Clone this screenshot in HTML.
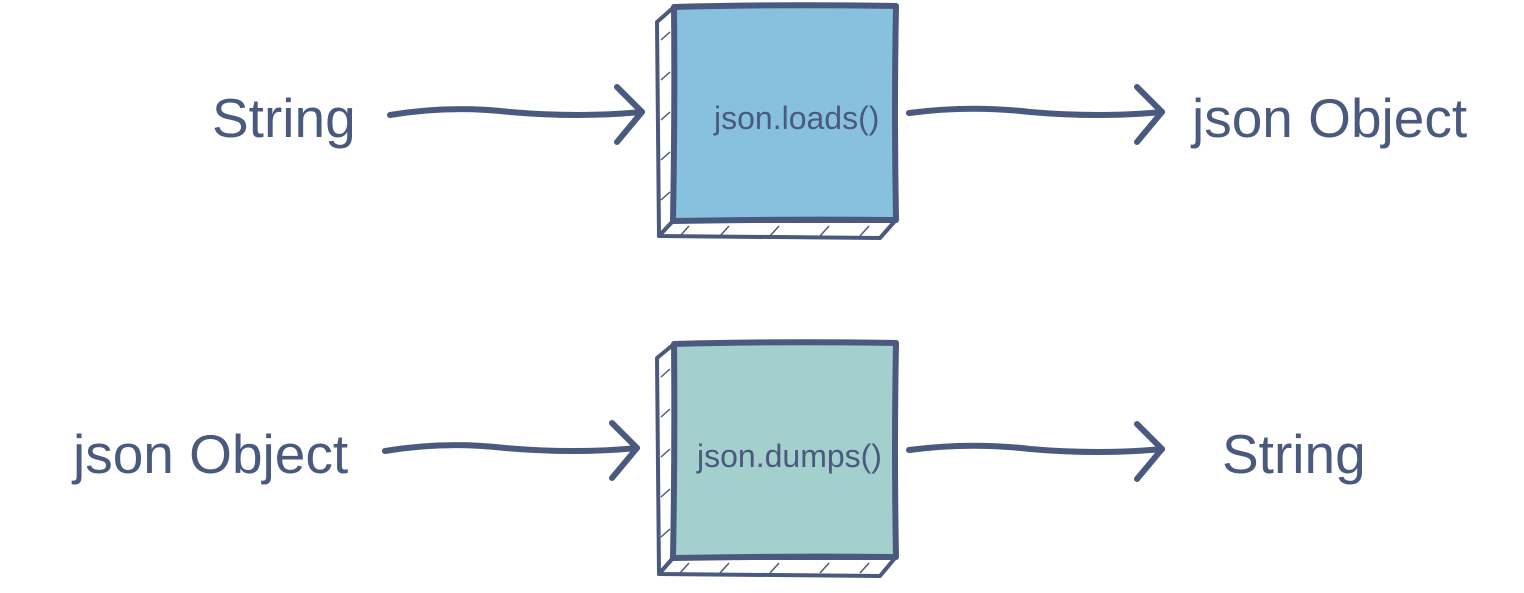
<!DOCTYPE html>
<html><head><style>
body{margin:0;background:#fff;width:1524px;height:588px;overflow:hidden}
svg text{font-family:"Liberation Sans",sans-serif;fill:#4a5a7e}
</style></head><body>
<svg width="1524" height="588" viewBox="0 0 1524 588" xmlns="http://www.w3.org/2000/svg">
<g fill="none" stroke="#4a5a7e" stroke-width="6" stroke-linecap="round" stroke-linejoin="round">
<path d="M674,7 L657,22 L659,236 L673,221 Z" fill="#fff" stroke-width="4"/>
<path d="M659,236 L880,238 L895,221 L673,221 Z" fill="#fff" stroke-width="4"/>
<path d="M674,7 Q780,4 896,6 Q894,110 896,220 Q780,219 673,221 Q675,110 674,7 Z" fill="#88c1df"/>
<path d="M674,344 L657,358 L659,574 L673,558 Z" fill="#fff" stroke-width="4"/>
<path d="M659,574 L880,576 L895,558 L673,558 Z" fill="#fff" stroke-width="4"/>
<path d="M674,344 Q780,341 896,343 Q894,450 896,557 Q780,556 673,558 Q675,450 674,344 Z" fill="#a3cfcd"/>
<path d="M390,115 Q450,105 510,112 Q580,118 642,112"/>
<path d="M617,87 L642,112 L617,142"/>
<path d="M909,113 Q970,105 1030,112 Q1100,118 1162,112"/>
<path d="M1137,87 L1162,112 L1137,142"/>
<path d="M385,451 Q445,441 505,448 Q575,454 637,448"/>
<path d="M612,423 L637,448 L612,478"/>
<path d="M909,450 Q970,442 1030,449 Q1100,455 1162,449"/>
<path d="M1137,424 L1162,449 L1137,479"/>
</g>
<g stroke="#4a5a7e" stroke-width="1.5">
<path d="M661,40 l9,-8 M661,80 l9,-8 M661,120 l9,-8 M661,160 l9,-8 M661,200 l9,-8 M680,236 l9,-10 M720,236 l9,-10 M770,236 l9,-10 M820,236 l9,-10 M860,236 l9,-10"/>
<path d="M661,377 l9,-8 M661,417 l9,-8 M661,457 l9,-8 M661,497 l9,-8 M661,537 l9,-8 M680,573 l9,-10 M720,573 l9,-10 M770,573 l9,-10 M820,573 l9,-10 M860,573 l9,-10"/>
</g>
<text x="212" y="137" font-size="55">String</text>
<text x="1192" y="137" font-size="55">json Object</text>
<text x="714" y="129" font-size="32">json.loads()</text>
<text x="73" y="473" font-size="55">json Object</text>
<text x="1222" y="473" font-size="55">String</text>
<text x="697" y="467" font-size="32">json.dumps()</text>
</svg>
</body></html>
